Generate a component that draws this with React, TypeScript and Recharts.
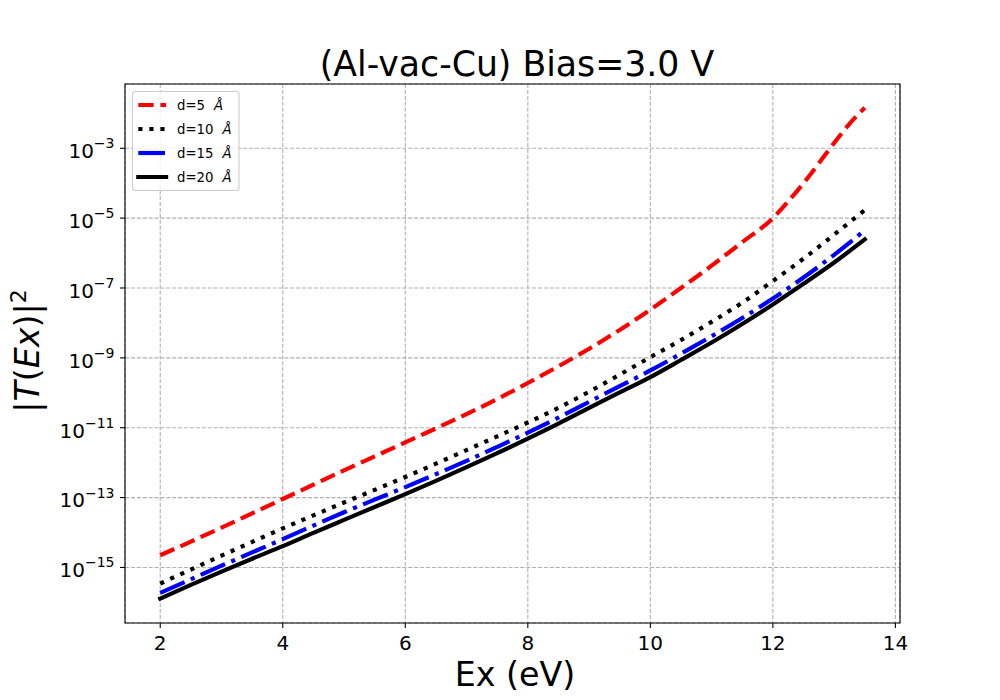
import React from 'react';
import { LineChart, Line, XAxis, YAxis, CartesianGrid, ReferenceArea } from 'recharts';

// Energy grid (eV)
const EX = [2, 2.5, 3, 3.5, 4, 4.5, 5, 5.5, 6, 6.5, 7, 7.5, 8, 8.5, 9, 9.5, 10, 10.5, 11, 11.5, 12, 12.5, 13, 13.5];
const EX_D5 = [2, 2.5, 3, 3.5, 4, 4.5, 5, 5.5, 6, 6.5, 7, 7.5, 8, 8.5, 9, 9.5, 10, 10.5, 11, 11.5, 12, 12.25, 12.5, 12.75, 13, 13.25, 13.5];

// log10 |T(Ex)|^2
const LOG_T_D5 = [-14.65, -14.26, -13.86, -13.45, -13.04, -12.63, -12.22, -11.82, -11.42, -11.02, -10.61, -10.18, -9.72, -9.24, -8.74, -8.2, -7.62, -7.0, -6.36, -5.69, -5.0, -4.52, -4.0, -3.43, -2.85, -2.3, -1.84];
const LOG_T_D10 = [-15.46, -15.06, -14.66, -14.27, -13.88, -13.51, -13.14, -12.78, -12.41, -12.03, -11.64, -11.25, -10.85, -10.43, -9.97, -9.48, -8.98, -8.49, -7.97, -7.42, -6.8, -6.16, -5.47, -4.77];
const LOG_T_D15 = [-15.73, -15.34, -14.95, -14.57, -14.19, -13.8, -13.42, -13.06, -12.7, -12.33, -11.95, -11.55, -11.14, -10.71, -10.26, -9.81, -9.36, -8.88, -8.38, -7.86, -7.3, -6.7, -6.05, -5.35];
const LOG_T_D20 = [-15.89, -15.5, -15.12, -14.75, -14.39, -14.01, -13.64, -13.27, -12.9, -12.52, -12.13, -11.73, -11.31, -10.88, -10.43, -9.99, -9.55, -9.06, -8.56, -8.03, -7.47, -6.88, -6.27, -5.61];

const SERIES_NAMES = ['d=5', 'd=10', 'd=15', 'd=20'];
const X_TICKS = [2, 4, 6, 8, 10, 12, 14];
const Y_TICK_EXP = [-15, -13, -11, -9, -7, -5, -3];
const X_DOMAIN: [number, number] = [1.425, 14.075];
const Y_DOMAIN_EXP: [number, number] = [-16.59, -1.16];

const FONT = 'DejaVu Sans';
const LW = 4.17;
const TICK_FS = 20;

const toData = (xs: number[], logs: number[]) => xs.map((x, i) => ({ x, y: Math.pow(10, logs[i]) }));

const SERIES = [
  { name: SERIES_NAMES[0], data: toData(EX_D5, LOG_T_D5), color: '#ff0000', dash: '15.4 6.7', cap: 'butt' },
  { name: SERIES_NAMES[1], data: toData(EX, LOG_T_D10), color: '#000000', dash: '4.17 6.88', cap: 'butt' },
  { name: SERIES_NAMES[2], data: toData(EX, LOG_T_D15), color: '#0000ff', dash: '26.7 6.7 4.17 6.7', cap: 'butt' },
  { name: SERIES_NAMES[3], data: toData(EX, LOG_T_D20), color: '#000000', dash: undefined, cap: 'square' },
];

const Y_TICKS = Y_TICK_EXP.map((e) => Math.pow(10, e));
const Y_DOMAIN: [number, number] = [Math.pow(10, Y_DOMAIN_EXP[0]), Math.pow(10, Y_DOMAIN_EXP[1])];

const XTick = (props: any) => {
  const { x, y, payload } = props;
  return (
    <text x={x} y={y + 19.8} textAnchor="middle" fontFamily={FONT} fontSize={TICK_FS} fill="#000">
      {payload.value}
    </text>
  );
};

const YTick = (props: any) => {
  const { x, y, payload } = props;
  const e = Math.round(Math.log10(payload.value));
  return (
    <text x={x - 3.5} y={y + 9.8} textAnchor="end" fontFamily={FONT} fontSize={TICK_FS} fill="#000">
      10
      <tspan dy={-9.8} fontSize={14}>{(e < 0 ? '\u2212' : '') + Math.abs(e)}</tspan>
    </text>
  );
};

export default function App() {
  return (
    <div style={{ position: 'absolute', left: 0, top: 0, width: 1000, height: 700, background: '#fff' }}>
      <LineChart width={1000} height={700} margin={{ top: 84, right: 100, bottom: 47, left: 65 }}>
        <CartesianGrid stroke="#b0b0b0" strokeDasharray="4.1 1.8" strokeWidth={1.1} />
        <XAxis
          dataKey="x"
          type="number"
          domain={X_DOMAIN}
          allowDataOverflow
          ticks={X_TICKS}
          height={30}
          axisLine={false}
          tickSize={5}
          tickLine={{ stroke: '#000', strokeWidth: 1.1 }}
          tick={<XTick />}
        />
        <YAxis
          type="number"
          scale="log"
          domain={Y_DOMAIN}
          allowDataOverflow
          ticks={Y_TICKS}
          width={60}
          axisLine={false}
          tickSize={5}
          tickLine={{ stroke: '#000', strokeWidth: 1.1 }}
          tick={<YTick />}
        />
        {SERIES.map((s) => (
          <Line
            key={s.name}
            data={s.data}
            dataKey="y"
            name={s.name}
            type="monotone"
            stroke={s.color}
            strokeWidth={LW}
            strokeDasharray={s.dash}
            strokeLinecap={s.cap as any}
            dot={false}
            activeDot={false}
            isAnimationActive={false}
          />
        ))}
        <ReferenceArea
          x1={X_DOMAIN[0]}
          x2={X_DOMAIN[1]}
          y1={Y_DOMAIN[0]}
          y2={Y_DOMAIN[1]}
          fill="none"
          fillOpacity={0}
          stroke="#000"
          strokeWidth={1.1}
          ifOverflow="visible"
        />
      </LineChart>
      <svg
        width={1000}
        height={700}
        style={{ position: 'absolute', left: 0, top: 0, pointerEvents: 'none' }}
        fontFamily={FONT}
      >
        <text x={517} y={76} textAnchor="middle" fontSize={34.7} fill="#000">
          (Al-vac-Cu) Bias=3.0 V
        </text>
        <text x={515} y={686} textAnchor="middle" fontSize={33.3} fill="#000">
          Ex (eV)
        </text>
        <text transform="translate(39.3, 351) rotate(-90)" textAnchor="middle" fontSize={33.3} fill="#000">
          <tspan>|</tspan>
          <tspan fontStyle="italic">T</tspan>
          <tspan>(</tspan>
          <tspan fontStyle="italic">Ex</tspan>
          <tspan>)|</tspan>
          <tspan dy={-13} fontSize={22}>2</tspan>
        </text>
        <g>
          <rect x={132.5} y={91.5} width={106.5} height={99} rx={3} fill="#fff" fillOpacity={0.8} stroke="#cccccc" strokeWidth={1.1} />
          {SERIES.map((s, i) => {
            const cy = 105 + i * 24;
            return (
              <g key={s.name}>
                <line
                  x1={138.3}
                  x2={166.1}
                  y1={cy}
                  y2={cy}
                  stroke={s.color}
                  strokeWidth={LW}
                  strokeDasharray={s.dash}
                  strokeLinecap={s.cap as any}
                />
                <text x={177} y={cy + 5} fontSize={13.3} fill="#000">
                  {s.name}
                  <tspan dx={9} fontStyle="italic">Å</tspan>
                </text>
              </g>
            );
          })}
        </g>
      </svg>
    </div>
  );
}
